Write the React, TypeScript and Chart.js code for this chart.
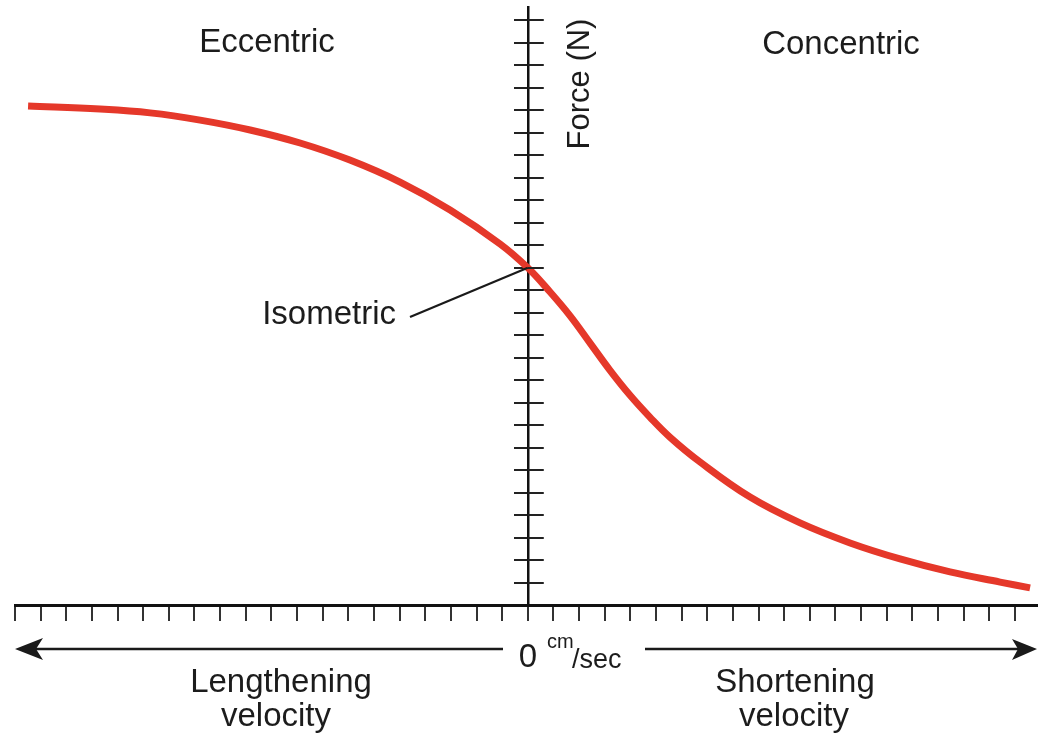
import React, { useEffect, useRef } from "react";
import { Chart, registerables } from "chart.js";

Chart.register(...registerables);

// Force–velocity curve (velocity in tick units, force in tick units)
const velocity = [
  -19.49, -16.68, -14.73, -12.78, -10.83, -8.88, -6.94, -4.98, -3.03, -1.08, 0,
  0.87, 1.65, 2.43, 3.2, 3.98, 4.76, 5.54, 6.72, 8.67, 10.62, 12.57, 14.52, 16.47,
  18.42, 19.59,
];
const force = [
  22.2, 22.06, 21.89, 21.57, 21.13, 20.55, 19.79, 18.81, 17.57, 16.06, 15.0,
  13.92, 12.86, 11.65, 10.45, 9.34, 8.36, 7.47, 6.36, 4.8, 3.65, 2.76, 2.05, 1.47,
  1.02, 0.76,
];

const regionLabels = ["Eccentric", "Concentric"];
const leftVelocityLabel = ["Lengthening", "velocity"];
const rightVelocityLabel = ["Shortening", "velocity"];
const yAxisTitle = "Force (N)";
const isometricLabel = "Isometric";
const isometricPoint = { x: 0, y: 15 };
const zeroLabel = "0";
const unitTop = "cm";
const unitBottom = "/sec";

const X_MIN = -20;
const X_MAX = 19.9;
const Y_MIN = 0;
const Y_MAX = 26.6;

const FONT = '"Liberation Sans", Arial, Helvetica, sans-serif';
const TEXT = "#1c1c1c";
const RED = "#e5382a";

const decorPlugin = {
  id: "decor",
  afterDraw(chart: any) {
    const ctx: CanvasRenderingContext2D = chart.ctx;
    const xs = chart.scales.x;
    const ys = chart.scales.y;
    const x0 = xs.getPixelForValue(0);

    ctx.save();
    // right half of y ticks
    ctx.strokeStyle = "#222";
    ctx.lineWidth = 2;
    for (const t of ys.ticks) {
      if (t.value <= 0) continue;
      const py = Math.round(ys.getPixelForValue(t.value));
      ctx.beginPath();
      ctx.moveTo(x0, py);
      ctx.lineTo(x0 + 16, py);
      ctx.stroke();
    }

    // Isometric leader line
    const ix = xs.getPixelForValue(isometricPoint.x);
    const iy = ys.getPixelForValue(isometricPoint.y);
    ctx.strokeStyle = "#1a1a1a";
    ctx.lineWidth = 2.2;
    ctx.beginPath();
    ctx.moveTo(410, 317);
    ctx.lineTo(ix, iy);
    ctx.stroke();

    ctx.fillStyle = TEXT;
    ctx.font = `33px ${FONT}`;
    ctx.textBaseline = "alphabetic";
    ctx.textAlign = "center";
    ctx.fillText(regionLabels[0], 267, 52);
    ctx.fillText(regionLabels[1], 841, 54);
    ctx.fillText(leftVelocityLabel[0], 281, 692);
    ctx.fillText(leftVelocityLabel[1], 276, 726);
    ctx.fillText(rightVelocityLabel[0], 795, 692);
    ctx.fillText(rightVelocityLabel[1], 794, 726);

    ctx.textAlign = "right";
    ctx.fillText(isometricLabel, 396, 324);

    // Force (N) rotated
    ctx.save();
    ctx.translate(589, 84);
    ctx.rotate(-Math.PI / 2);
    ctx.textAlign = "center";
    ctx.font = `31px ${FONT}`;
    ctx.fillText(yAxisTitle, 0, 0);
    ctx.restore();

    // 0 cm/sec
    ctx.textAlign = "center";
    ctx.font = `33px ${FONT}`;
    ctx.fillText(zeroLabel, 528, 667);
    ctx.textAlign = "left";
    ctx.font = `20px ${FONT}`;
    ctx.fillText(unitTop, 547, 648);
    ctx.font = `27px ${FONT}`;
    ctx.fillText(unitBottom, 572, 668);

    // arrows
    const ay = 649;
    ctx.strokeStyle = "#1a1a1a";
    ctx.fillStyle = "#1a1a1a";
    ctx.lineWidth = 2.5;
    ctx.beginPath();
    ctx.moveTo(30, ay);
    ctx.lineTo(503, ay);
    ctx.moveTo(645, ay);
    ctx.lineTo(1022, ay);
    ctx.stroke();

    ctx.beginPath();
    ctx.moveTo(15, ay);
    ctx.lineTo(43, ay - 11);
    ctx.lineTo(36, ay);
    ctx.lineTo(43, ay + 11);
    ctx.closePath();
    ctx.fill();

    ctx.beginPath();
    ctx.moveTo(1037, ay);
    ctx.lineTo(1012, ay - 10);
    ctx.lineTo(1018, ay);
    ctx.lineTo(1012, ay + 11);
    ctx.closePath();
    ctx.fill();

    ctx.restore();
  },
};

export default function App() {
  const ref = useRef<HTMLCanvasElement | null>(null);

  useEffect(() => {
    if (!ref.current) return;
    const points = velocity.map((v, i) => ({ x: v, y: force[i] }));
    const chart = new Chart(ref.current, {
      type: "scatter",
      data: {
        datasets: [
          {
            data: points,
            showLine: true,
            borderColor: RED,
            backgroundColor: RED,
            borderWidth: 7,
            pointRadius: 0,
            tension: 0.4,
            borderCapStyle: "butt",
            borderJoinStyle: "round",
          } as any,
        ],
      },
      options: {
        animation: false,
        responsive: false,
        devicePixelRatio: 1,
        layout: { padding: { left: 15, right: 0, top: 7, bottom: 113 } },
        plugins: {
          legend: { display: false },
          tooltip: { enabled: false },
        },
        scales: {
          x: {
            type: "linear",
            position: "bottom",
            min: X_MIN,
            max: X_MAX,
            afterFit: (s: any) => {
              s.height = 20;
            },
            ticks: { display: false, stepSize: 1, includeBounds: false },
            grid: {
              drawOnChartArea: false,
              drawTicks: true,
              tickLength: 16,
              color: "#333",
              lineWidth: 2,
            },
            border: { display: true, color: "#111", width: 3 },
          },
          y: {
            type: "linear",
            position: { x: 0 } as any,
            min: Y_MIN,
            max: Y_MAX,
            afterFit: (s: any) => {
              s.width = 0;
            },
            ticks: { display: false, stepSize: 1, includeBounds: false },
            grid: {
              drawOnChartArea: false,
              drawTicks: true,
              tickLength: 13,
              color: "#222",
              lineWidth: 2,
            },
            border: { display: true, color: "#111", width: 2.5 },
          },
        },
      },
      plugins: [decorPlugin],
    });
    return () => chart.destroy();
  }, []);

  return (
    <div
      style={{
        position: "fixed",
        left: 0,
        top: 0,
        width: 1038,
        height: 738,
        overflow: "hidden",
        background: "#fff",
      }}
    >
      <canvas ref={ref} width={1038} height={738} style={{ display: "block" }} />
    </div>
  );
}
